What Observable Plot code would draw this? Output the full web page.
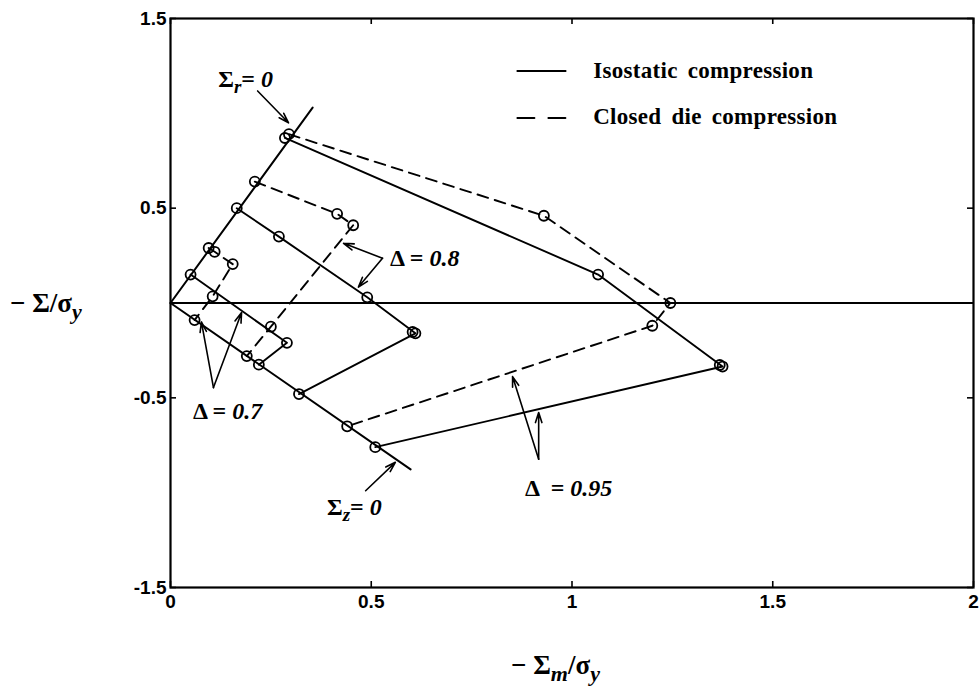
<!DOCTYPE html>
<html><head><meta charset="utf-8">
<script src="https://cdn.jsdelivr.net/npm/d3@7"></script>
<script src="https://cdn.jsdelivr.net/npm/@observablehq/plot@0.6"></script>
<style>
html,body{margin:0;padding:0;background:#fff;}
#chart svg{display:block;}
</style></head><body><div id="chart"></div>
<script>
// ---- tick values ----
const xTicks = [0, 0.5, 1, 1.5, 2];
const yTicks = [1.5, 0.5, -0.5, -1.5];

// ---- boundary lines (Σr = 0 and Σz = 0) ----
const lineSr0 = [[0, 0], [0.354, 1.03]];
const lineSz0 = [[0, 0], [0.598, -0.877]];

// ---- isostatic compression (solid) ----
const iso095 = [[0.285, 0.87], [1.065, 0.15], [1.375, -0.335], [0.51, -0.76]];
const iso080 = [[0.165, 0.50], [0.27, 0.35], [0.49, 0.03], [0.61, -0.16], [0.32, -0.48]];
const iso070 = [[0.05, 0.15], [0.29, -0.21], [0.22, -0.325]];

// ---- closed die compression (dashed) ----
const die095 = [[0.295, 0.89], [0.93, 0.46], [1.245, 0.0], [1.20, -0.12], [0.44, -0.65]];
const die080 = [[0.21, 0.64], [0.415, 0.47], [0.455, 0.41], [0.25, -0.125], [0.19, -0.28]];
const die070 = [[0.095, 0.29], [0.11, 0.27], [0.155, 0.205], [0.105, 0.035], [0.06, -0.09]];

// doubled markers seen in the figure
const extraMarkers = [[1.368, -0.327], [0.603, -0.153]];

// ---- annotation arrows [x1, y1, x2, y2] ----
const arrows = [
  [0.217, 1.118, 0.294, 0.95],
  [0.486, -0.99, 0.56, -0.84],
  [0.528, 0.236, 0.431, 0.315],
  [0.528, 0.236, 0.468, 0.084],
  [0.107, -0.446, 0.077, -0.10],
  [0.107, -0.446, 0.177, -0.05],
  [0.917, -0.824, 0.852, -0.388],
  [0.917, -0.824, 0.917, -0.577]
];

// ---- annotation labels ----
const annLabels = [
  {x: 0.12, y: 1.134, parts: [{t: "Σ"}, {t: "r", it: 1, sub: 1}, {t: "= "}, {t: "0", it: 1}]},
  {x: 0.391, y: -1.123, parts: [{t: "Σ"}, {t: "z", it: 1, sub: 1}, {t: "= "}, {t: "0", it: 1}]},
  {x: 0.548, y: 0.194, parts: [{t: "Δ = "}, {t: "0.8", it: 1}]},
  {x: 0.057, y: -0.614, parts: [{t: "Δ = "}, {t: "0.7", it: 1}]},
  {x: 0.884, y: -1.018, parts: [{t: "Δ  = "}, {t: "0.95", it: 1}]}
];

// ---- legend ----
const legendLabels = ["Isostatic compression", "Closed die compression"];
const legendDash = [null, "17,14"];
const legendLineX = [0.864, 0.984];
const legendY = [1.223, 0.976];
const legendTextX = 1.054;

const W = 980, H = 686;
const mL = 170, mR = 7, mT = 18, mB = 99;
const innerW = W - mL - mR, innerH = H - mT - mB;
const serif = "'Liberation Serif','Times New Roman',serif";
const sans = "'Liberation Sans',Arial,Helvetica,sans-serif";
const X = d => d[0], Y = d => d[1];
const DASH = "11,7";

const legendLines = legendLabels.map((l, i) => legendLineX.map(x => ({x, y: legendY[i], k: i})));

const chart = Plot.plot({
  width: W, height: H,
  marginLeft: mL, marginRight: mR, marginTop: mT, marginBottom: mB,
  x: {domain: [0, 2], label: null},
  y: {domain: [-1.5, 1.5], label: null},
  style: {background: "white", color: "black"},
  marks: [
    Plot.ruleY([0], {stroke: "black", strokeWidth: 2.2}),
    Plot.line(lineSr0, {x: X, y: Y, stroke: "black", strokeWidth: 2}),
    Plot.line(lineSz0, {x: X, y: Y, stroke: "black", strokeWidth: 2}),
    ...[iso095, iso080, iso070].map(s => Plot.line(s, {x: X, y: Y, stroke: "black", strokeWidth: 1.9})),
    ...[die095, die080, die070].map(s => Plot.line(s, {x: X, y: Y, stroke: "black", strokeWidth: 1.9, strokeDasharray: DASH})),
    ...[iso095, iso080, iso070, die095, die080, die070, extraMarkers].map(s =>
      Plot.dot(s, {x: X, y: Y, r: 5, stroke: "black", strokeWidth: 1.8, fill: "none"})),
    Plot.arrow(arrows, {x1: d => d[0], y1: d => d[1], x2: d => d[2], y2: d => d[3],
      stroke: "black", strokeWidth: 1.6, headLength: 10, headAngle: 35}),
    // legend lines
    ...legendLines.map((pts, i) => Plot.line(pts, {x: "x", y: "y", stroke: "black", strokeWidth: 2,
      strokeDasharray: legendDash[i]})),
    // inward ticks (bottom, top, left, right)
    Plot.ruleX(xTicks, {x: d => d, insetTop: innerH - 6, stroke: "black", strokeWidth: 1.6}),
    Plot.ruleX(xTicks, {x: d => d, insetBottom: innerH - 6, stroke: "black", strokeWidth: 1.6}),
    Plot.ruleY(yTicks, {y: d => d, insetRight: innerW - 6, stroke: "black", strokeWidth: 1.6}),
    Plot.ruleY(yTicks, {y: d => d, insetLeft: innerW - 6, stroke: "black", strokeWidth: 1.6}),
    Plot.axisX(xTicks, {anchor: "bottom", tickSize: 0, tickPadding: 7, tickFormat: d => String(d),
      fontSize: 19, fontWeight: "bold", fontFamily: sans}),
    Plot.axisY(yTicks, {anchor: "left", tickSize: 0, tickPadding: 4, tickFormat: d => String(d),
      fontSize: 19, fontWeight: "bold", fontFamily: sans}),
    Plot.frame({stroke: "black", strokeWidth: 2.2})
  ]
});

document.getElementById("chart").appendChild(chart);
const svgEl = chart.tagName.toLowerCase() === "svg" ? chart : chart.querySelector("svg");
const svg = d3.select(svgEl);
const sx = chart.scale("x"), sy = chart.scale("y");

function rich(px, py, parts, size, anchor) {
  const t = svg.append("text")
    .attr("x", px).attr("y", py)
    .attr("font-family", serif).attr("font-weight", "bold")
    .attr("font-size", size).attr("fill", "black")
    .attr("text-anchor", anchor || "start")
    .style("white-space", "pre");
  let shifted = 0;
  parts.forEach(p => {
    const ts = t.append("tspan").text(p.t);
    if (p.it) ts.attr("font-style", "italic");
    const want = p.sub ? Math.round(size * 0.26) : 0;
    if (want !== shifted) { ts.attr("dy", want - shifted); shifted = want; }
    if (p.sub) ts.attr("font-size", Math.round(size * 0.8));
  });
  return t;
}

// annotation labels
annLabels.forEach(a => rich(sx.apply(a.x), sy.apply(a.y), a.parts, 24));

// legend labels
legendLabels.forEach((l, i) => {
  svg.append("text").attr("x", sx.apply(legendTextX)).attr("y", sy.apply(legendY[i]) + 7)
    .attr("text-anchor", "start")
    .attr("font-family", serif).attr("font-weight", "bold").attr("font-size", 23)
    .attr("word-spacing", 4).attr("letter-spacing", 0.3).attr("fill", "black").text(l);
});

// axis titles
const midX = (sx.apply(0) + sx.apply(2)) / 2;
rich(midX - 16, H - 12, [{t: "− Σ"}, {t: "m", it: 1, sub: 1}, {t: "/σ"}, {t: "y", it: 1, sub: 1}], 27, "middle");
rich(10, sy.apply(0) + 9, [{t: "− Σ/σ"}, {t: "y", it: 1, sub: 1}], 27, "start");
</script>
</body></html>
